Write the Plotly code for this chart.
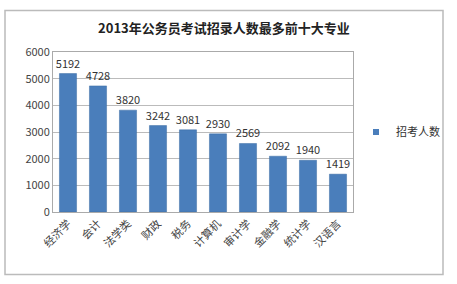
import plotly.graph_objects as go

categories = ["经济学", "会计", "法学类", "财政", "税务", "计算机", "审计学", "金融学", "统计学", "汉语言"]
values = [5192, 4728, 3820, 3242, 3081, 2930, 2569, 2092, 1940, 1419]
series_name = "招考人数"
title = "2013年公务员考试招录人数最多前十大专业"
y_ticks = [0, 1000, 2000, 3000, 4000, 5000, 6000]

font = "Noto Sans CJK SC"
bar_color = "#4a7ebb"

fig = go.Figure()
fig.add_trace(go.Bar(
    x=categories, y=values, name=series_name, showlegend=False,
    marker=dict(color=bar_color, line=dict(color="#3d6ca3", width=0.5)),
    text=[str(v) for v in values], textposition="outside", constraintext="none",
    textfont=dict(family=font, size=11, color="#333333"),
    cliponaxis=False,
))
fig.add_trace(go.Scatter(
    x=[None], y=[None], mode="markers", name=series_name,
    marker=dict(symbol="square", size=6, color=bar_color),
))

fig.update_layout(
    width=457, height=284,
    margin=dict(l=53, r=102, t=52, b=72),
    paper_bgcolor="white", plot_bgcolor="white",
    bargap=0.43,
    showlegend=True,
    title=dict(text="<b>" + title + "</b>", x=0.49, xanchor="center", y=0.9, yanchor="middle",
               font=dict(family=font, size=13, color="#222222")),
    legend=dict(x=1.01, y=0.5, xanchor="left", yanchor="middle",
                font=dict(family=font, size=11, color="#333333"),
                bgcolor="rgba(0,0,0,0)", itemwidth=30),
    font=dict(family=font, size=11, color="#333333"),
    shapes=[dict(type="rect", xref="paper", yref="paper",
                 x0=-0.16, x1=1.3, y0=-0.39, y1=1.26,
                 line=dict(color="#bbbbbb", width=1.5))],
)
fig.update_xaxes(tickangle=-45, tickfont=dict(family=font, size=11, color="#444444"),
                 showline=True, linecolor="#aaaaaa", mirror=True, ticks="")
fig.update_yaxes(range=[0, 6000], tickvals=y_ticks, showgrid=True, gridcolor="#bbbbbb",
                 showline=True, linecolor="#aaaaaa", mirror=True, ticks="",
                 tickfont=dict(family=font, size=11, color="#444444"), zeroline=False)

fig.write_html("out.html")
